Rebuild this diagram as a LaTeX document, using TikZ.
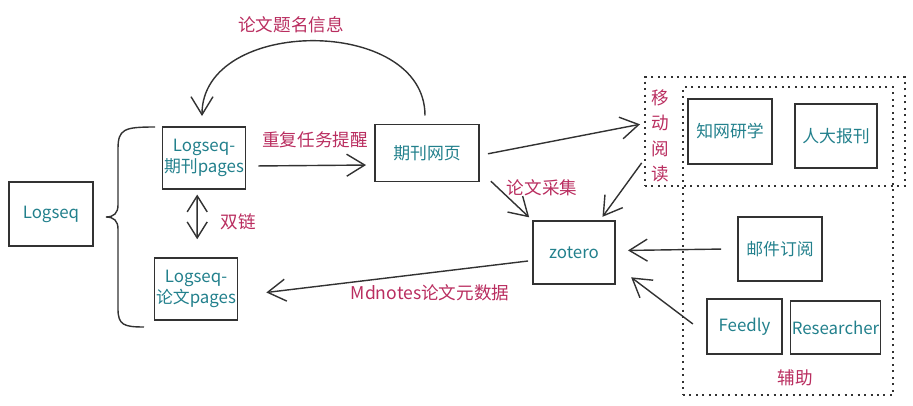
\documentclass[tikz,border=0pt]{standalone}
\usepackage{fontspec}
\setmainfont{Noto Sans CJK SC}
\usetikzlibrary{arrows.meta}
\definecolor{boxtext}{RGB}{34,128,140}
\definecolor{labeltext}{RGB}{185,45,95}
\definecolor{pen}{RGB}{50,50,50}

\begin{document}
\begin{tikzpicture}[
    box/.style={draw=pen, line width=1.1pt, text=boxtext, align=center, inner sep=1pt},
    area/.style={draw=pen, line width=1.2pt, dash pattern=on 1.4pt off 3.2pt},
    lab/.style={text=labeltext, align=center, font=\fontsize{12.5}{15}\selectfont},
    arr/.style={draw=pen, line width=1pt, -{Straight Barb[length=4.5mm,width=5.5mm]}, shorten >=3pt, shorten <=3pt},
    font=\fontsize{12}{15}\selectfont]
    \useasboundingbox (0,0) rectangle (22.825,10.125);

    \node[box, minimum width=2.1cm, minimum height=1.6cm] (logseq) at (1.275,4.775) {Logseq};
    \node[box, minimum width=2.05cm, minimum height=1.55cm] (qikan) at (5.1,6.175) {Logseq-\\期刊pages};
    \node[box, minimum width=2.05cm, minimum height=1.55cm] (lunwen) at (4.9,2.9) {Logseq-\\论文pages};
    \node[box, minimum width=2.6cm, minimum height=1.425cm] (web) at (10.675,6.3) {期刊网页};
    \node[box, minimum width=2.05cm, minimum height=1.575cm] (zotero) at (14.35,3.8125) {zotero};
    \node[box, minimum width=2.1cm, minimum height=1.625cm] (cnki) at (18.25,6.8375) {知网研学};
    \node[box, minimum width=2.05cm, minimum height=1.6cm] (renda) at (20.9,6.725) {人大报刊};
    \node[box, minimum width=2.1cm, minimum height=1.6cm] (email) at (19.5,3.9) {邮件订阅};
    \node[box, minimum width=1.875cm, minimum height=1.375cm] (feedly) at (18.6125,1.9625) {Feedly};
    \node[box, minimum width=1.875cm, minimum height=1.325cm] (researcher) at (20.8875,1.9375) {Researcher};

    \node[area, minimum width=6.5cm, minimum height=2.725cm] (mobile) at (19.375,6.8375) {};
    \node[area, minimum width=5.25cm, minimum height=7.7cm] (aux) at (19.7,4.1) {};

    \node[lab, font=\fontsize{12.5}{18}\selectfont] (mobilelab) at (16.5,6.725) {移\\动\\阅\\读};
    \node[lab] (auxlab) at (19.875,0.675) {辅助};
    \node[lab] (titlelab) at (7.275,9.5) {论文题名信息};
    \node[lab] (remindlab) at (7.875,6.625) {重复任务提醒};
    \node[lab] (linklab) at (5.95,4.575) {双链};
    \node[lab] (collectlab) at (13.55,5.425) {论文采集};
    \node[lab] (mdlab) at (10.75,2.8) {Mdnotes论文元数据};

    \draw[pen, line width=1pt] (3.875,6.95) .. controls (3.1,6.95) and (2.95,6.9) .. (2.95,6.4)
        -- (2.95,5.0) .. controls (2.95,4.8) and (2.85,4.7) .. (2.65,4.7)
        .. controls (2.85,4.7) and (2.95,4.6) .. (2.95,4.4)
        -- (2.95,2.4) .. controls (2.95,2.0) and (3.1,1.95) .. (3.6,1.95);

    \draw[arr] ([shift={(-0.05,0.1)}]web.north) .. controls +(0,2.6) and +(0,2.6) .. ([shift={(-0.05,0.15)}]qikan.north);
    \draw[arr] ([shift={(0.2,-0.2)}]qikan.east) -- ([shift={(-0.1,-0.3)}]web.west);
    \draw[arr] ([shift={(0.1,-0.04)}]web.east) -- ([yshift=0.2cm]mobile.west);
    \draw[arr] ([shift={(0.2,0.1)}]web.south east) -- (zotero.north west);
    \draw[arr] ([yshift=-0.7cm]mobile.west) -- ([xshift=0.65cm]zotero.north);
    \draw[arr] ([xshift=-0.3cm]email.west) -- ([shift={(0.2,0.05)}]zotero.east);
    \draw[arr] ([xshift=-0.25cm]feedly.west) -- ([shift={(0.3,0.25)}]zotero.south east);
    \draw[arr] ([yshift=-0.2cm]zotero.west) -- ([shift={(0.6,-0.1)}]lunwen.east);
    \draw[arr, {Straight Barb[length=4mm,width=5mm]}-{Straight Barb[length=4mm,width=5mm]}, shorten <=0.12cm, shorten >=0.45cm] ([xshift=-0.17cm]qikan.south) -- ([xshift=0.03cm]lunwen.north);

\end{tikzpicture}
\end{document}
